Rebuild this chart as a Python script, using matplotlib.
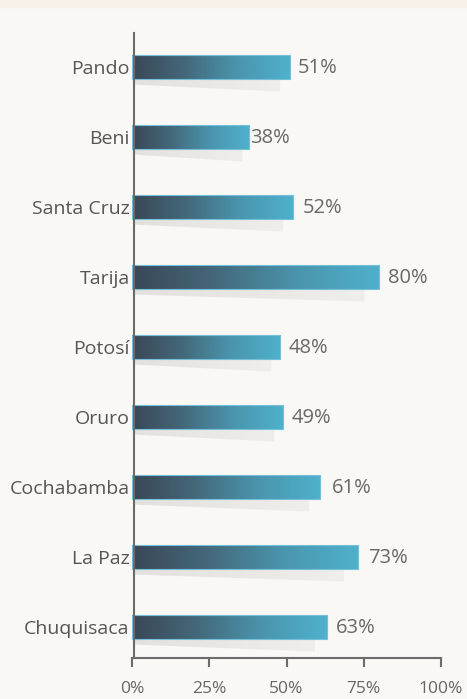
import numpy as np
import matplotlib.pyplot as plt
from matplotlib.colors import LinearSegmentedColormap
from matplotlib.patches import Polygon, Rectangle

# departments listed bottom -> top
regions = ['Chuquisaca', 'La Paz', 'Cochabamba', 'Oruro', 'Potosí',
           'Tarija', 'Santa Cruz', 'Beni', 'Pando']
values = [63, 73, 61, 49, 48, 80, 52, 38, 51]
ticks = [0, 25, 50, 75, 100]
tick_labels = ['0%', '25%', '50%', '75%', '100%']

# gap between bar end and its label (in % units), as placed in the original
label_gap = [3.0, 3.4, 3.8, 2.8, 2.8, 3.0, 3.2, 0.3, 2.6]

plt.rcParams['font.family'] = ['Open Sans', 'DejaVu Sans']

fig = plt.figure(figsize=(4.67, 6.99), dpi=100)
fig.set_facecolor('#f9f8f4')
# light band at the very top
fig.patches.append(Rectangle((0, 1 - 7 / 699), 1, 7 / 699,
                             transform=fig.transFigure,
                             color='#f8f1e9', zorder=0))

ax = fig.add_axes([132 / 467, 41 / 699, 309 / 467, 625 / 699])
ax.set_facecolor('none')

bar_cmap = LinearSegmentedColormap.from_list(
    'bar', ['#3a4757', '#44687a', '#4a95ad', '#4fb1cc'])
shadow_cmap = LinearSegmentedColormap.from_list(
    'shadow', ['#e3e1dd', '#efeeea'])
grad = np.linspace(0, 1, 256).reshape(1, -1)

h = 0.33
for i, (name, v) in enumerate(zip(regions, values)):
    top = i - h / 2
    sw = v * 0.94
    shadow = Polygon([(0.6, top), (sw, top), (sw, top - 13 / 70),
                      (0.6, top - 6 / 70)], closed=True,
                     facecolor='none', edgecolor='none')
    ax.add_patch(shadow)
    im = ax.imshow(grad, cmap=shadow_cmap,
                   extent=(0, sw, top - 13 / 70, top),
                   aspect='auto', zorder=1)
    im.set_clip_path(shadow)
    ax.imshow(grad, cmap=bar_cmap, extent=(0, v, i - h / 2, i + h / 2),
              aspect='auto', zorder=2)
    ax.add_patch(Rectangle((0, i - h / 2), v, h, fill=False,
                           edgecolor='#74c0d8', lw=0.8, zorder=3))
    ax.text(v + label_gap[i], i - 0.02, f'{v}%', va='center', ha='left',
            fontsize=14.5, color='#686868')

ax.set_xlim(0, 100)
ax.set_ylim(-0.443, 8.486)

for s in ['top', 'right']:
    ax.spines[s].set_visible(False)
ax.spines['left'].set_position(('data', 0.6))
ax.spines['left'].set_color('#6b6b6b')
ax.spines['left'].set_linewidth(1.5)
ax.spines['bottom'].set_color('#6b6b6b')
ax.spines['bottom'].set_linewidth(1.5)
ax.spines['left'].set_zorder(4)

ax.set_xticks(ticks, tick_labels)
ax.tick_params(axis='x', direction='out', length=6.5, width=1.5,
               color='#6b6b6b', labelcolor='#666666', labelsize=12.5, pad=10)
ax.set_yticks(range(len(regions)), regions)
ax.tick_params(axis='y', length=0, pad=3, labelcolor='#555555',
               labelsize=14)

fig.savefig('out.png', dpi=100, facecolor=fig.get_facecolor())
